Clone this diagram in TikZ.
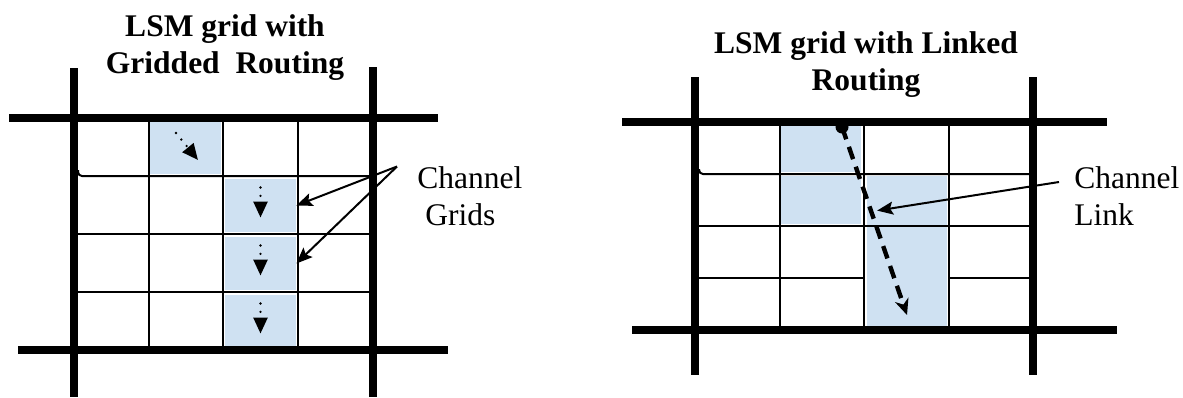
\documentclass[tikz,border=0pt]{standalone}
\usepackage{fontspec}
\setmainfont{Liberation Serif}
\usepackage{tikz}
\usetikzlibrary{positioning}
\usetikzlibrary{arrows.meta}
\definecolor{chanblue}{RGB}{207,225,242}
\tikzset{every picture/.style={x=0.5pt,y=-0.5pt},
cell/.style={fill=chanblue,inner sep=0pt,minimum width=35.5pt,minimum height=26.5pt},
rcell/.style={cell,minimum width=40pt,minimum height=24pt},
wire/.style={line width=1pt},
rail/.style={line width=4.25pt},
note/.style={inner sep=0pt,font=\fontsize{15.75}{18.5}\selectfont},
pointer/.style={line width=1pt,-{Stealth[length=8pt,width=6.5pt,inset=1.5pt]}},
hop/.style={line width=1.3pt,dash pattern=on 0pt off 4.2pt,line cap=round,-{Triangle[length=8pt,width=7pt,line cap=butt]}},
linkpath/.style={line width=2.2pt,dash pattern=on 6.5pt off 4pt,-{Stealth[length=8pt,width=7pt,inset=2.5pt]}}}

\begin{document}
\begin{tikzpicture}
\useasboundingbox (0,0) rectangle (1183,397);

\node (g1) [cell] at (185.5,147.5) {};
\node (g2) [cell] at (260.5,205.5) {};
\node (g3) [cell, below of=g2, node distance=29pt] {};
\node (g4) [cell, below of=g3, node distance=29pt] {};

\node (l1) [rcell] at (821,148) {};
\node (l2) [rcell, below of=l1, node distance=26pt] {};
\node (l3) [rcell, minimum height=77pt] at (907,253) {};

\draw[wire, rounded corners=2pt] (78,170) |- (373,176);
\draw[wire] (74,234) -- (373,234) (74,292) -- (373,292);
\draw[wire] (149,118) -- (149,350) (223,118) -- (223,350) (298,118) -- (298,350);

\draw[wire, rounded corners=2pt] (699,169) |- (1033,174);
\draw[wire] (695,226) -- (1033,226) (695,278) -- (864,278) (949,278) -- (1033,278);
\draw[wire] (780,122) -- (780,330) (864,122) -- (864,330) (949,122) -- (949,330);

\draw[rail] (74,68) -- (74,397) (373,67) -- (373,397) (9,118) -- (438,118) (18,350) -- (448,350);
\draw[rail] (695,77) -- (695,375) (1033,77) -- (1033,375) (622,122) -- (1107,122) (632,330) -- (1117,330);

\node (gtitle) [note, font=\fontsize{15.75}{18.5}\selectfont\bfseries, align=center, anchor=north] at (225,14.5) {LSM grid with\\Gridded\ \ Routing};
\node (ltitle) [note, font=\fontsize{15.75}{18.5}\selectfont\bfseries, align=center, anchor=north] at (866,31.5) {LSM grid with Linked\\Routing};

\node (grids) [note, align=left, anchor=north west] at (417,166.5) {Channel\\\hspace*{4pt}Grids};
\node (chlink) [note, align=left, anchor=north west] at (1074,166.5) {Channel\\Link};

\draw[hop] ([xshift=-4.75pt,yshift=7.25pt]g1.center) -- ([xshift=6.25pt,yshift=-6.25pt]g1.center);
\foreach \c in {g2,g3,g4}
  \draw[hop] ([yshift=9pt]\c.center) -- ([yshift=-6pt]\c.center);

\draw[pointer] ([xshift=-10pt]grids.north west) -- (g2.east);
\draw[pointer] ([xshift=-10pt]grids.north west) -- (g3.east);

\coordinate (src) at ([xshift=10.5pt,yshift=10.5pt]l1.center);
\fill (src) circle (3.25pt);
\draw[linkpath] (src) -- ([yshift=-31pt]l3.center);
\draw[pointer] ([xshift=-7.5pt,yshift=-7.75pt]chlink.north west) -- ([xshift=5.25pt,yshift=-17.5pt]l3.north west);
\end{tikzpicture}
\end{document}
